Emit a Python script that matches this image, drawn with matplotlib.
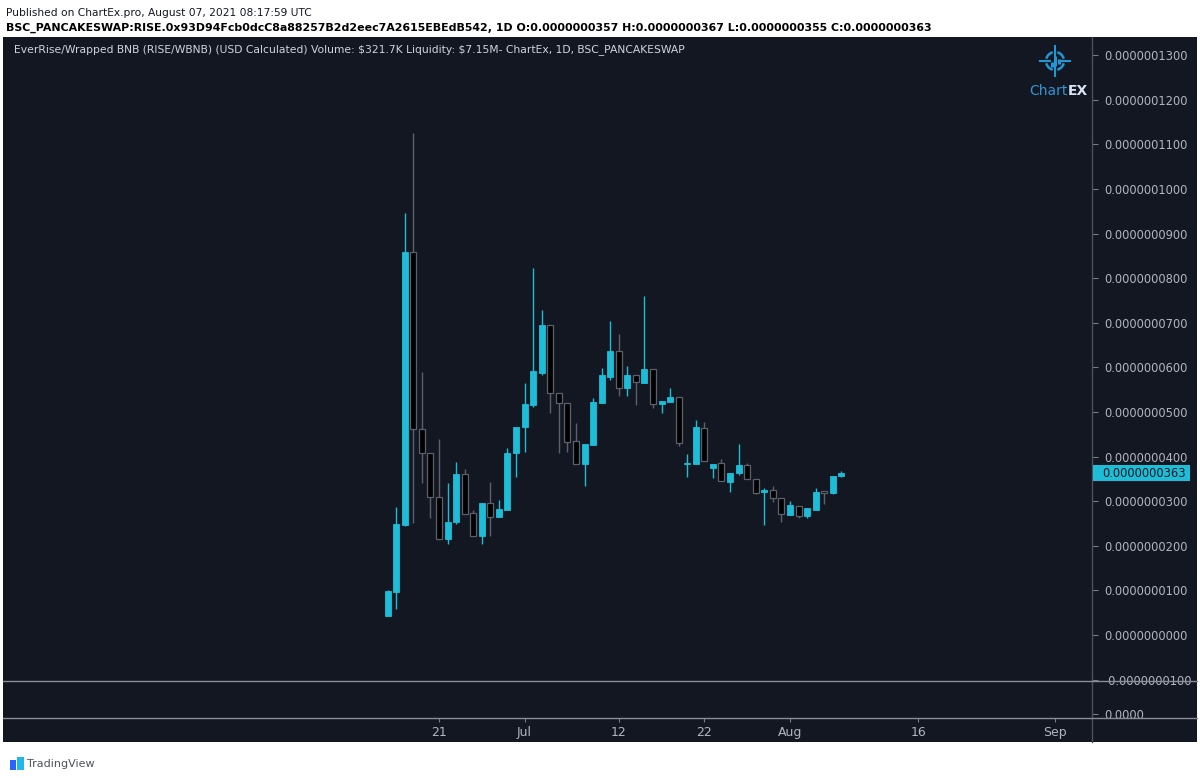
import datetime as dt
import matplotlib
matplotlib.use("Agg")
import matplotlib.pyplot as plt
import matplotlib.dates as mdates
import matplotlib.font_manager as fm
from matplotlib.patches import Rectangle, Arc
from matplotlib.lines import Line2D
from matplotlib.transforms import Affine2D
from matplotlib.ticker import FixedLocator, FuncFormatter

# ---------------- data (prices in units of 1e-8 USD) ----------------
SCALE = 1e-8
start_date = dt.date(2021, 6, 15)
opens = [0.43, 0.96, 2.47, 8.59, 4.62, 4.08, 3.09, 2.15, 2.53, 3.61, 2.74, 2.22, 2.96, 2.65,
         2.80, 4.07, 4.66, 5.16, 5.88, 6.95, 5.43, 5.21, 4.34, 3.83, 4.26, 5.21, 5.78, 6.37,
         5.53, 5.82, 5.66, 5.96, 5.18, 5.23, 5.34, 3.83, 3.83, 4.65, 3.75, 3.85, 3.44, 3.63,
         3.82, 3.50, 3.20, 3.24, 3.07, 2.69, 2.89, 2.67, 2.80, 3.21, 3.19, 3.57]
highs = [1.00, 2.87, 9.46, 11.26, 5.90, 4.08, 4.39, 3.41, 3.88, 3.72, 2.80, 2.96, 3.43, 3.03,
         4.19, 4.67, 5.64, 8.22, 7.29, 6.95, 5.43, 5.21, 4.76, 4.28, 5.31, 5.98, 7.04, 6.75,
         6.03, 5.82, 7.59, 5.96, 5.25, 5.53, 5.34, 4.05, 4.82, 4.77, 3.84, 3.94, 3.63, 4.28,
         3.86, 3.50, 3.29, 3.34, 3.07, 3.00, 2.89, 2.84, 3.29, 3.21, 3.57, 3.67]
lows = [0.42, 0.58, 2.45, 2.51, 3.41, 2.62, 2.15, 2.04, 2.49, 2.71, 2.22, 2.04, 2.22, 2.65,
        2.80, 3.55, 4.11, 5.12, 5.83, 4.97, 4.09, 4.11, 3.83, 3.33, 4.26, 5.21, 5.72, 5.36,
        5.36, 5.16, 5.66, 5.10, 4.97, 5.23, 4.24, 3.54, 3.83, 3.91, 3.51, 3.46, 3.21, 3.59,
        3.50, 3.16, 2.47, 2.99, 2.54, 2.69, 2.62, 2.62, 2.80, 2.94, 3.16, 3.55]
closes = [0.99, 2.49, 8.59, 4.62, 4.08, 3.09, 2.15, 2.53, 3.61, 2.71, 2.22, 2.96, 2.65, 2.83,
          4.09, 4.67, 5.18, 5.93, 6.95, 5.42, 5.20, 4.33, 3.83, 4.28, 5.22, 5.82, 6.37, 5.53,
          5.82, 5.67, 5.96, 5.18, 5.25, 5.34, 4.30, 3.85, 4.67, 3.91, 3.84, 3.46, 3.63, 3.82,
          3.50, 3.19, 3.24, 3.07, 2.71, 2.91, 2.67, 2.84, 3.21, 3.19, 3.57, 3.63]
dates = [start_date + dt.timedelta(days=i) for i in range(len(opens))]

y_ticks = list(range(-1, 14))
x_tick_dates = [dt.date(2021, 6, 21), dt.date(2021, 7, 1), dt.date(2021, 7, 12), dt.date(2021, 7, 22),
                dt.date(2021, 8, 1), dt.date(2021, 8, 16), dt.date(2021, 9, 1)]
x_tick_labels = ["21", "Jul", "12", "22", "Aug", "16", "Sep"]

header1 = "Published on ChartEx.pro, August 07, 2021 08:17:59 UTC"
header2 = ("BSC_PANCAKESWAP:RISE.0x93D94Fcb0dcC8a88257B2d2eec7A2615EBEdB542, 1D "
           "O:0.0000000357 H:0.0000000367 L:0.0000000355 C:0.0000000363")
legend_text = ("EverRise/Wrapped BNB (RISE/WBNB) (USD Calculated) Volume: \\$321.7K "
               "Liquidity: \\$7.15M- ChartEx, 1D, BSC_PANCAKESWAP")

# ---------------- style ----------------
BG = "#131722"
UP = "#1dbdd8"
DOWN_FILL = "#000000"
DOWN_EDGE = "#5d606b"
TXT = "#b2b5be"
GRID_LINE = "#8a8d96"

names = {f.name for f in fm.fontManager.ttflist}
NARROW = "Liberation Sans Narrow" if "Liberation Sans Narrow" in names else "DejaVu Sans"

W, H = 1200, 778
fig = plt.figure(figsize=(W / 100, H / 100), dpi=100, facecolor="white")
px = Affine2D().scale(1.0 / W, -1.0 / H).translate(0, 1) + fig.transFigure


def fx(p):
    return p / W


def fy(p):
    return 1 - p / H


# dark chart background
fig.patches.append(Rectangle((3, 37), 1194, 705, transform=px, facecolor=BG, edgecolor="none", zorder=-5))

ax = fig.add_axes([fx(3), fy(681), fx(1092) - fx(3), fy(37) - fy(681)])
axv = fig.add_axes([fx(3), fy(718), fx(1092) - fx(3), fy(681) - fy(718)], sharex=ax)
for a in (ax, axv):
    a.set_facecolor(BG)
    a.set_zorder(1)
    for s in a.spines.values():
        s.set_visible(False)

# candles
xd = mdates.date2num(dates)
body_w = 0.7
for x, o, h, l, c in zip(xd, opens, highs, lows, closes):
    up = c >= o
    col = UP if up else DOWN_EDGE
    ax.vlines(x, l, h, color=col, linewidth=1.0, zorder=2)
    bottom = min(o, c)
    height = max(abs(c - o), 0.03)
    if up:
        ax.bar(x, height, bottom=bottom, width=body_w, color=UP, edgecolor=UP, linewidth=0.6, zorder=3)
    else:
        ax.bar(x, height, bottom=bottom, width=body_w, color=DOWN_FILL, edgecolor=DOWN_EDGE,
               linewidth=0.9, zorder=3)

ref = mdates.date2num(dt.date(2021, 6, 21))
ppd = 8.56
ax.set_xlim(ref - (439 - 3) / ppd, ref + (1092 - 439) / ppd)
ax.set_ylim((635 - 681) / 44.6, (635 - 37) / 44.6)

# right price axis
ax.yaxis.tick_right()
ax.yaxis.set_major_locator(FixedLocator(y_ticks))
ax.yaxis.set_major_formatter(FuncFormatter(lambda v, p: f"{v * SCALE:.10f}"))
ax.tick_params(axis="y", direction="out", length=4, width=0.8, color="#787b86", labelcolor=TXT,
               labelsize=8.3, pad=5)
ax.tick_params(axis="x", bottom=False, labelbottom=False)

axv.set_ylim(-0.12, 1)
axv.yaxis.tick_right()
axv.set_yticks([0])
axv.set_yticklabels(["0.0000"])
axv.tick_params(axis="y", direction="out", length=4, width=0.8, color="#787b86", labelcolor=TXT,
                labelsize=8.3, pad=5)
axv.set_xticks(mdates.date2num(x_tick_dates))
axv.set_xticklabels(x_tick_labels)
axv.tick_params(axis="x", direction="out", length=3, width=0.8, color="#787b86", labelcolor=TXT,
                labelsize=9, pad=3)
for t in axv.get_xticklabels():
    t.set_fontfamily(NARROW)

# separators
fig.lines.append(Line2D([1092, 1092], [37, 742], transform=px, color="#4c505b", linewidth=1, zorder=5))
fig.lines.append(Line2D([3, 1197], [681, 681], transform=px, color=GRID_LINE, linewidth=1, zorder=5))
fig.lines.append(Line2D([3, 1197], [718, 718], transform=px, color=GRID_LINE, linewidth=1, zorder=5))

# last price label
last = closes[-1]
y_last = H - ax.transData.transform((0, last))[1]
fig.patches.append(Rectangle((1093, y_last - 8), 97, 16, transform=px, facecolor=UP, edgecolor="none", zorder=6))
fig.text(fx(1102), fy(y_last), f"{last * SCALE:.10f}", color="#131722", fontsize=8.3,
         va="center", ha="left", zorder=7)

# texts
renderer = fig.canvas.get_renderer()


def fit(t, target):
    w = t.get_window_extent(renderer=renderer).width
    t.set_fontsize(t.get_fontsize() * target / w)


t1 = fig.text(fx(6), fy(13), header1, color="#131722", fontsize=9, family=NARROW, va="center", ha="left")
fit(t1, 305)
t2 = fig.text(fx(6), fy(28), header2, color="#000000", fontsize=9, family=NARROW, weight="bold",
              va="center", ha="left")
fit(t2, 926)
t3 = fig.text(fx(14), fy(50), legend_text, color="#d1d4dc", fontsize=9, family=NARROW, va="center",
              ha="left", zorder=8)
fit(t3, 672)

# ChartEx logo
LOGO = "#1f98d5"
cx, cy, r = 1055, 61, 9
for a1 in (15, 105, 195, 285):
    fig.patches.append(Arc((cx, cy), 2 * r, 2 * r, theta1=a1, theta2=a1 + 60, transform=px,
                           color=LOGO, linewidth=1.8, zorder=8))
for dx, dy in ((0, -1), (0, 1), (-1, 0), (1, 0)):
    fig.lines.append(Line2D([cx + dx * 5, cx + dx * 15], [cy + dy * 5, cy + dy * 15], transform=px,
                            color=LOGO, linewidth=1.5, zorder=8))
for bx, b0, b1 in ((-3.5, 62, 67), (0, 56, 66), (3.5, 59, 64)):
    fig.lines.append(Line2D([cx + bx, cx + bx], [b0, b1], transform=px, color=LOGO, linewidth=2.2,
                            zorder=8, solid_capstyle="butt"))
fig.text(fx(1068), fy(91), "Chart", color="#2f95d6", fontsize=10, ha="right", va="center", zorder=8)
fig.text(fx(1068), fy(91), "EX", color="#d6e6f5", fontsize=10, weight="bold", ha="left", va="center", zorder=8)

# TradingView footer
fig.patches.append(Rectangle((10, 760), 6, 10, transform=px, facecolor="#2962ff", edgecolor="none"))
fig.patches.append(Rectangle((17, 757), 7, 13, transform=px, facecolor="#21b6f0", edgecolor="none"))
fig.text(fx(27), fy(764), "TradingView", color="#50535e", fontsize=8, family=NARROW, va="center", ha="left")

fig.savefig("out.png", dpi=100, facecolor="white")
